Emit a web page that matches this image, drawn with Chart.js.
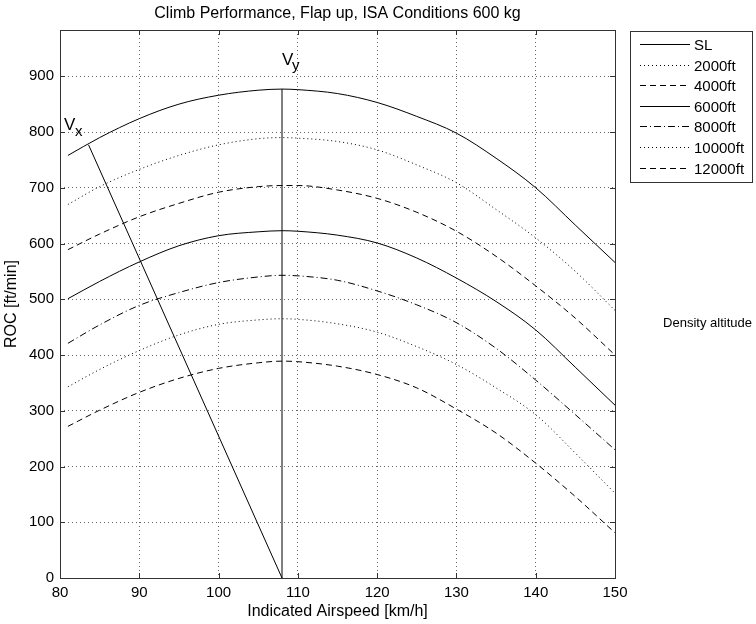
<!DOCTYPE html>
<html><head><meta charset="utf-8">
<script src="https://cdn.jsdelivr.net/npm/chart.js@4"></script>
<style>html,body{margin:0;padding:0;background:#fff;}canvas{display:block;}</style>
</head><body>
<canvas id="c" width="756" height="624"></canvas>
<script>
// ---- data ----
const airspeed = [81, 85, 90, 95, 100, 105, 108, 110, 115, 120, 125, 130, 135, 140, 145, 150];
const rocSL    = [758, 790, 824, 850, 866, 875, 877, 876, 869, 853, 828, 798, 753, 700, 633, 566];
const roc2000  = [670, 702, 733, 758, 777, 788, 790, 789, 783, 768, 741, 709, 661, 610, 550, 480];
const roc4000  = [589, 617, 648, 672, 692, 702, 704, 704, 696, 681, 656, 622, 577, 524, 466, 400];
const roc6000  = [501, 532, 567, 596, 614, 621, 623, 622, 615, 601, 574, 538, 496, 445, 378, 310];
const roc8000  = [421, 454, 489, 512, 530, 540, 543, 542, 534, 515, 490, 458, 412, 355, 293, 230];
const roc10000 = [343, 374, 408, 436, 455, 463, 465, 464, 456, 441, 415, 383, 341, 293, 224, 152];
const roc12000 = [272, 301, 333, 358, 376, 386, 389, 388, 380, 365, 341, 303, 260, 206, 146, 81];
const seriesNames = ['SL', '2000ft', '4000ft', '6000ft', '8000ft', '10000ft', '12000ft'];
const vxLineX = [83.6, 108];
const vxLineY = [777, 0];
const vyLineX = [108, 108];
const vyLineY = [0, 877];
const xTickValues = [80, 90, 100, 110, 120, 130, 140, 150];
const yTickValues = [0, 100, 200, 300, 400, 500, 600, 700, 800, 900];

// ---- styles ----
const FAM = "'Liberation Sans', Arial, Helvetica, sans-serif";
const seriesData = [rocSL, roc2000, roc4000, roc6000, roc8000, roc10000, roc12000];
const dashes = [[], [1, 3], [6, 4], [], [7, 3, 1, 3], [1, 3], [6, 4]];

const toPts = (xs, ys) => xs.map((x, i) => ({x: x, y: ys[i]}));

const datasets = seriesData.map((ys, i) => ({
  label: seriesNames[i],
  data: toPts(airspeed, ys),
  borderColor: '#000',
  borderWidth: 1,
  borderDash: dashes[i],
  pointRadius: 0,
  showLine: true,
  cubicInterpolationMode: 'monotone',
  fill: false
}));
datasets.push({label: 'Vx', data: toPts(vxLineX, vxLineY), borderColor: '#000', borderWidth: 1, pointRadius: 0, showLine: true, fill: false});
datasets.push({label: 'Vy', data: toPts(vyLineX, vyLineY), borderColor: '#000', borderWidth: 1, pointRadius: 0, showLine: true, fill: false});

const decor = {
  id: 'decor',
  afterDraw(chart) {
    const {ctx, chartArea: a, scales: {x, y}} = chart;
    ctx.save();
    // frame
    ctx.strokeStyle = '#333';
    ctx.lineWidth = 1;
    ctx.setLineDash([]);
    ctx.strokeRect(a.left + 0.5, a.top + 0.5, a.right - a.left, a.bottom - a.top);
    // inward ticks
    ctx.beginPath();
    xTickValues.forEach(v => {
      const px = Math.round(x.getPixelForValue(v)) + 0.5;
      ctx.moveTo(px, a.bottom); ctx.lineTo(px, a.bottom - 5);
      ctx.moveTo(px, a.top); ctx.lineTo(px, a.top + 5);
    });
    yTickValues.forEach(v => {
      const py = Math.round(y.getPixelForValue(v)) + 0.5;
      ctx.moveTo(a.left, py); ctx.lineTo(a.left + 5, py);
      ctx.moveTo(a.right, py); ctx.lineTo(a.right - 5, py);
    });
    ctx.stroke();

    // Vx / Vy labels
    ctx.fillStyle = '#000';
    ctx.textAlign = 'left';
    ctx.textBaseline = 'alphabetic';
    ctx.font = '17px ' + FAM;
    ctx.fillText('V', 64, 130);
    ctx.fillText('V', 282, 65);
    ctx.font = '15px ' + FAM;
    ctx.fillText('x', 75, 136);
    ctx.fillText('y', 292, 70);

    // legend
    const lx = 630, ly = 31, lw = 122, lh = 151;
    ctx.fillStyle = '#fff';
    ctx.fillRect(lx, ly, lw, lh);
    ctx.strokeStyle = '#333';
    ctx.strokeRect(lx + 0.5, ly + 0.5, lw, lh);
    ctx.font = '15px ' + FAM;
    ctx.textBaseline = 'middle';
    seriesNames.forEach((name, i) => {
      const ry = Math.round(44 + i * 20.6) + 0.5;
      ctx.strokeStyle = '#000';
      ctx.setLineDash(dashes[i]);
      ctx.beginPath();
      ctx.moveTo(640, ry); ctx.lineTo(690, ry);
      ctx.stroke();
      ctx.setLineDash([]);
      ctx.fillStyle = '#000';
      ctx.fillText(name, 694, ry + 1);
    });

    // side note
    ctx.font = '13px ' + FAM;
    ctx.textAlign = 'right';
    ctx.fillText('Density altitude', 752, 323);
    ctx.restore();
  }
};

new Chart(document.getElementById('c'), {
  type: 'scatter',
  data: {datasets: datasets},
  options: {
    responsive: false,
    animation: false,
    layout: {padding: {left: 0, right: 141, top: 0, bottom: 0}},
    plugins: {
      legend: {display: false},
      tooltip: {enabled: false},
      title: {
        display: true,
        text: 'Climb Performance, Flap up, ISA Conditions 600 kg',
        fullSize: false,
        color: '#000',
        font: {family: FAM, size: 16, weight: 'normal', lineHeight: 1.2},
        padding: {top: 3.5, bottom: 7.3}
      }
    },
    scales: {
      x: {
        type: 'linear', min: 80, max: 150,
        afterFit(s) { s.height = 46; },
        afterBuildTicks(s) { s.ticks = xTickValues.map(v => ({value: v})); },
        grid: {color: 'rgba(0,0,0,0.6)', lineWidth: 1, drawTicks: false},
        border: {display: false, dash: [1, 3]},
        ticks: {color: '#000', font: {family: FAM, size: 15}, padding: 6, maxRotation: 0, autoSkip: false},
        title: {display: true, text: 'Indicated Airspeed [km/h]', color: '#000',
                font: {family: FAM, size: 16, lineHeight: 1.2}, padding: {top: 0, bottom: 2.5}}
      },
      y: {
        type: 'linear', min: 0, max: 983,
        afterFit(s) { s.width = 60; },
        afterBuildTicks(s) { s.ticks = yTickValues.map(v => ({value: v})); },
        grid: {color: 'rgba(0,0,0,0.6)', lineWidth: 1, drawTicks: false},
        border: {display: false, dash: [1, 3]},
        ticks: {color: '#000', font: {family: FAM, size: 15}, padding: 6, autoSkip: false},
        title: {display: true, text: 'ROC [ft/min]', color: '#000',
                font: {family: FAM, size: 16, lineHeight: 1.2}, padding: {top: 1.5, bottom: 0}}
      }
    }
  },
  plugins: [decor]
});
</script>
</body></html>
